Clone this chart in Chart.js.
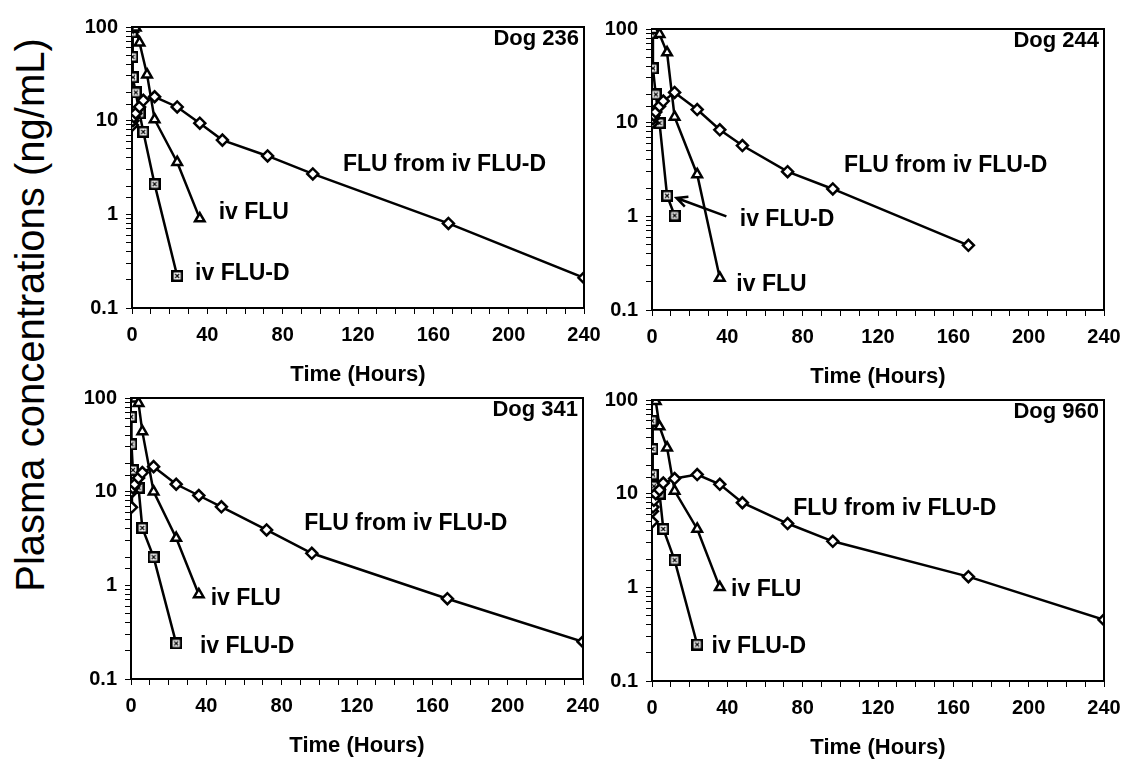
<!DOCTYPE html>
<html lang="en">
<head>
<meta charset="UTF-8">
<title>Plasma concentrations - four dogs</title>
<script src="https://cdn.jsdelivr.net/npm/chart.js"></script>
<style>
  html, body { margin: 0; padding: 0; background: #fff; overflow: hidden; }
  #page { position: relative; width: 1132px; height: 762px; font-family: Arial, "Liberation Sans", sans-serif; }
  canvas { position: absolute; }
  #ytitle {
    position: absolute; left: 30px; top: 315px;
    transform: translate(-50%, -50%) rotate(-90deg);
    white-space: nowrap; font-size: 40px; color: #000;
  }
</style>
</head>
<body>
<div id="page">
  <div id="ytitle">Plasma concentrations (ng/mL)</div>
  <canvas id="c236" width="540" height="381" style="left:70px; top:7px;"></canvas>
  <canvas id="c244" width="540" height="381" style="left:590px; top:9px;"></canvas>
  <canvas id="c341" width="540" height="381" style="left:69px; top:378px;"></canvas>
  <canvas id="c960" width="540" height="381" style="left:590px; top:380px;"></canvas>
</div>
<script>
// ---- data (time in hours, concentration in ng/mL) ----
// Dog 236
const d236FluFromFluD_t = [0.25, 0.5, 1, 2, 4, 6, 12, 24, 36, 48, 72, 96, 168, 240];
const d236FluFromFluD_v = [9, 10, 11, 12, 14, 16.5, 18, 14, 9.4, 6.2, 4.2, 2.7, 0.8, 0.21];
const d236IvFlu_t = [0.5, 2, 4, 8, 12, 24, 36];
const d236IvFlu_v = [95, 98, 68, 31, 10.3, 3.6, 0.9];
const d236IvFluD_t = [0.083, 0.25, 0.5, 2, 4, 6, 12, 24];
const d236IvFluD_v = [88, 48, 29, 20, 12, 7.6, 2.1, 0.22];

// Dog 244
const d244FluFromFluD_t = [0.25, 0.5, 1, 2, 4, 6, 12, 24, 36, 48, 72, 96, 168];
const d244FluFromFluD_v = [10, 11, 12, 13, 15, 17, 21, 13.8, 8.4, 5.7, 3.0, 1.96, 0.49];
const d244IvFlu_t = [0.25, 1, 4, 8, 12, 24, 36];
const d244IvFlu_v = [100, 97, 88, 56, 11.5, 2.8, 0.22];
const d244IvFluD_t = [0.083, 0.5, 2, 4, 8, 12];
const d244IvFluD_v = [90, 38, 20, 9.9, 1.66, 1.02];

// Dog 341
const d341FluFromFluD_t = [0.25, 0.5, 1, 2, 4, 6, 12, 24, 36, 48, 72, 96, 168, 240];
const d341FluFromFluD_v = [6.8, 10, 11, 12, 14, 16, 18.5, 12, 9.1, 6.9, 3.9, 2.2, 0.72, 0.25];
const d341IvFlu_t = [1, 2, 4, 6, 12, 24, 36];
const d341IvFlu_v = [100, 98, 88, 44, 10, 3.2, 0.8];
const d341IvFluD_t = [0.083, 0.25, 1, 4, 6, 12, 24];
const d341IvFluD_v = [63, 32, 17, 11, 4.1, 2.0, 0.24];

// Dog 960
const d960FluFromFluD_t = [0.083, 0.25, 0.5, 1, 2, 4, 6, 12, 24, 36, 48, 72, 96, 168, 240];
const d960FluFromFluD_v = [5, 6.5, 7.2, 8.5, 10, 11, 13, 14.5, 16, 12.6, 8.0, 4.8, 3.1, 1.3, 0.45];
const d960IvFlu_t = [0.5, 2, 4, 8, 12, 24, 36];
const d960IvFlu_v = [100, 97, 52, 31, 10.7, 4.2, 1.0];
const d960IvFluD_t = [0.083, 0.25, 0.5, 1, 4, 6, 12, 24];
const d960IvFluD_v = [60, 30, 16, 12, 10, 4.2, 1.95, 0.245];

// axis ticks
const yLabelled = [0.1, 1, 10, 100];
const xLabelled = [0, 40, 80, 120, 160, 200, 240];

function pts(t, v) {
    return t.map((x, i) => ({ x: x, y: v[i] }));
}

// square marker with a small cross inside
function crossSquare() {
    let c = document.createElement('canvas');
    c.width = 12; c.height = 12;
    let g = c.getContext('2d');
    g.fillStyle = '#fff';
    g.fillRect(1, 1, 10, 10);
    g.strokeStyle = '#000';
    g.lineWidth = 2.5;
    g.strokeRect(1.25, 1.25, 9.5, 9.5);
    g.lineWidth = 1.2;
    g.beginPath();
    g.moveTo(4, 4); g.lineTo(8, 8);
    g.moveTo(8, 4); g.lineTo(4, 8);
    g.stroke();
    return c;
}
const squareMark = crossSquare();

// frame on top/right + text labels placed in data coordinates
const notesPlugin = {
    id: 'notes',
    afterDatasetsDraw(chart, args, opts) {
        let ctx = chart.ctx;
        let a = chart.chartArea;
        let xs = chart.scales.x, ys = chart.scales.y;
        ctx.save();
        ctx.strokeStyle = '#000';
        ctx.lineWidth = 2;
        ctx.beginPath();
        ctx.moveTo(a.left, a.top);
        ctx.lineTo(a.right, a.top);
        ctx.lineTo(a.right, a.bottom);
        ctx.stroke();

        ctx.fillStyle = '#000';
        ctx.font = 'bold 22px Arial, "Liberation Sans", sans-serif';
        ctx.textAlign = 'right';
        ctx.textBaseline = 'top';
        ctx.fillText(opts.dog, a.right - 5, a.top + 1);

        ctx.font = 'bold 23px Arial, "Liberation Sans", sans-serif';
        ctx.textAlign = 'left';
        ctx.textBaseline = 'middle';
        (opts.items || []).forEach(it => {
            ctx.fillText(it.text, xs.getPixelForValue(it.t), ys.getPixelForValue(it.v));
        });

        if (opts.arrow) {
            let x1 = xs.getPixelForValue(opts.arrow.from[0]), y1 = ys.getPixelForValue(opts.arrow.from[1]);
            let x2 = xs.getPixelForValue(opts.arrow.to[0]), y2 = ys.getPixelForValue(opts.arrow.to[1]);
            let ang = Math.atan2(y2 - y1, x2 - x1);
            ctx.lineWidth = 2.5;
            ctx.beginPath();
            ctx.moveTo(x1, y1);
            ctx.lineTo(x2, y2);
            ctx.moveTo(x2 + 12 * Math.cos(ang + Math.PI - 0.45), y2 + 12 * Math.sin(ang + Math.PI - 0.45));
            ctx.lineTo(x2, y2);
            ctx.lineTo(x2 + 12 * Math.cos(ang + Math.PI + 0.45), y2 + 12 * Math.sin(ang + Math.PI + 0.45));
            ctx.stroke();
        }
        ctx.restore();
    }
};

function series(data, style) {
    let ds = {
        data: data,
        borderColor: '#000',
        borderWidth: 2.5,
        pointBorderColor: '#000',
        pointBackgroundColor: '#fff',
        pointBorderWidth: 2.5,
        pointRadius: 5.5,
        tension: 0,
        fill: false
    };
    if (style === 'square') {
        ds.pointStyle = squareMark;
    } else {
        ds.pointStyle = style;
    }
    return ds;
}

const tickFont = { family: 'Arial, "Liberation Sans", sans-serif', size: 20, weight: 'bold' };

function makeChart(id, diamonds, triangles, squares, notes) {
    new Chart(document.getElementById(id), {
        type: 'line',
        data: {
            datasets: [
                series(diamonds, 'rectRot'),
                series(triangles, 'triangle'),
                series(squares, 'square')
            ]
        },
        options: {
            responsive: false,
            devicePixelRatio: 1,
            animation: false,
            layout: { padding: { top: 14, right: 26, left: 0, bottom: 0 } },
            plugins: {
                legend: { display: false },
                tooltip: { enabled: false },
                notes: notes
            },
            scales: {
                x: {
                    type: 'linear',
                    min: 0, max: 240,
                    border: { color: '#000', width: 2 },
                    grid: { drawOnChartArea: false, drawTicks: true, tickLength: 6, color: '#000' },
                    ticks: {
                        stepSize: 10,
                        autoSkip: false,
                        maxRotation: 0,
                        padding: 9,
                        color: '#000',
                        font: tickFont,
                        callback: v => xLabelled.includes(v) ? String(v) : ''
                    },
                    title: {
                        display: true,
                        text: 'Time (Hours)',
                        color: '#000',
                        font: { family: 'Arial, "Liberation Sans", sans-serif', size: 22, weight: 'bold' },
                        padding: { top: 10, bottom: 0 }
                    },
                    afterFit: s => { s.height = 80; }
                },
                y: {
                    type: 'logarithmic',
                    min: 0.1, max: 100,
                    border: { color: '#000', width: 2 },
                    grid: { drawOnChartArea: false, drawTicks: true, tickLength: 6, color: '#000' },
                    ticks: {
                        autoSkip: false,
                        padding: 8,
                        color: '#000',
                        font: tickFont,
                        callback: v => {
                            let hit = yLabelled.find(l => Math.abs(l - v) < 1e-9);
                            return hit !== undefined ? String(hit) : '';
                        }
                    },
                    afterFit: s => { s.width = 62; }
                }
            }
        },
        plugins: [notesPlugin]
    });
}

makeChart('c236',
    pts(d236FluFromFluD_t, d236FluFromFluD_v),
    pts(d236IvFlu_t, d236IvFlu_v),
    pts(d236IvFluD_t, d236IvFluD_v),
    {
        dog: 'Dog 236',
        items: [
            { text: 'FLU from iv FLU-D', t: 112, v: 3.35 },
            { text: 'iv FLU', t: 46, v: 1.04 },
            { text: 'iv FLU-D', t: 33.5, v: 0.235 }
        ]
    });

makeChart('c244',
    pts(d244FluFromFluD_t, d244FluFromFluD_v),
    pts(d244IvFlu_t, d244IvFlu_v),
    pts(d244IvFluD_t, d244IvFluD_v),
    {
        dog: 'Dog 244',
        items: [
            { text: 'FLU from iv FLU-D', t: 102, v: 3.5 },
            { text: 'iv FLU-D', t: 46.6, v: 0.93 },
            { text: 'iv FLU', t: 44.8, v: 0.186 }
        ],
        arrow: { from: [39.5, 1.0], to: [13, 1.57] }
    });

makeChart('c341',
    pts(d341FluFromFluD_t, d341FluFromFluD_v),
    pts(d341IvFlu_t, d341IvFlu_v),
    pts(d341IvFluD_t, d341IvFluD_v),
    {
        dog: 'Dog 341',
        items: [
            { text: 'FLU from iv FLU-D', t: 92, v: 4.5 },
            { text: 'iv FLU', t: 42.3, v: 0.72 },
            { text: 'iv FLU-D', t: 36.6, v: 0.22 }
        ]
    });

makeChart('c960',
    pts(d960FluFromFluD_t, d960FluFromFluD_v),
    pts(d960IvFlu_t, d960IvFlu_v),
    pts(d960IvFluD_t, d960IvFluD_v),
    {
        dog: 'Dog 960',
        items: [
            { text: 'FLU from iv FLU-D', t: 75, v: 7.0 },
            { text: 'iv FLU', t: 42, v: 0.95 },
            { text: 'iv FLU-D', t: 31.6, v: 0.23 }
        ]
    });
</script>
</body>
</html>
